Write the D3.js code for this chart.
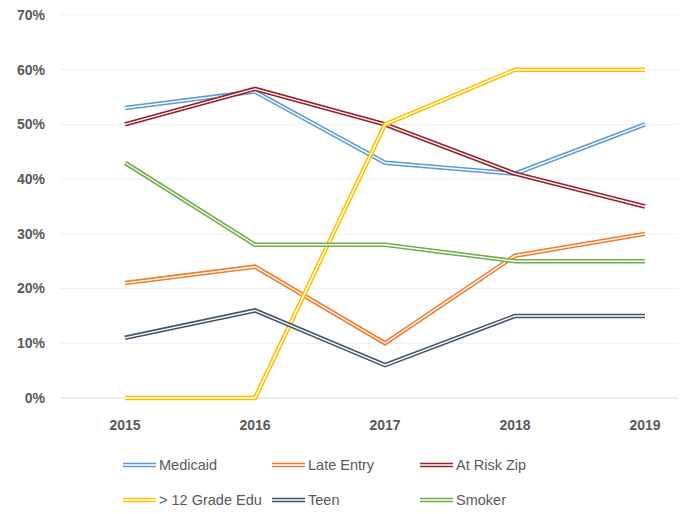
<!DOCTYPE html>
<html>
<head>
<meta charset="utf-8">
<script src="https://d3js.org/d3.v7.min.js"></script>
<style>
    body { margin: 0; background: #fff; }
    svg text { font-family: "Liberation Sans", "DejaVu Sans", sans-serif; fill: #595959; }
    .tick-y, .tick-x { font-weight: bold; font-size: 14px; }
    .legend text { font-size: 14.5px; }
</style>
</head>
<body>
<script>
    // chart data
    let years = ["2015", "2016", "2017", "2018", "2019"];
    let seriesNames = ["Medicaid", "Late Entry", "At Risk Zip", "> 12 Grade Edu", "Teen", "Smoker"];
    let colors = ["#5B9BD5", "#ED7D31", "#962126", "#FFC000", "#44546A", "#70AD47"];
    let medicaid = [0.53, 0.56, 0.43, 0.41, 0.50];
    let lateEntry = [0.21, 0.24, 0.10, 0.26, 0.30];
    let atRiskZip = [0.50, 0.565, 0.50, 0.41, 0.35];
    let gradeEdu = [0, 0, 0.50, 0.60, 0.60];
    let teen = [0.11, 0.16, 0.06, 0.15, 0.15];
    let smoker = [0.43, 0.28, 0.28, 0.25, 0.25];
    let yTicks = [0, 0.1, 0.2, 0.3, 0.4, 0.5, 0.6, 0.7];

    var values = [medicaid, lateEntry, atRiskZip, gradeEdu, teen, smoker];
    var series = seriesNames.map(function (name, i) {
        return { name: name, color: colors[i], values: values[i] };
    });

    var width = 683, height = 514;

    var svg = d3.select("body").append("svg")
        .attr("width", width)
        .attr("height", height);

    var x = d3.scaleBand().domain(years).range([60, 710]);
    var y = d3.scaleLinear().domain([0, 0.7]).range([398, 15]);
    var xc = function (d) { return x(d) + x.bandwidth() / 2; };

    // gridlines
    svg.append("g").selectAll("line")
        .data(yTicks)
        .enter().append("line")
        .attr("x1", 60).attr("x2", 678)
        .attr("y1", function (d) { return y(d); })
        .attr("y2", function (d) { return y(d); })
        .attr("stroke", function (d) { return d == 0 ? "#d9d9d9" : "#efefef"; })
        .attr("stroke-width", 1);

    // y labels
    svg.append("g").selectAll("text")
        .data(yTicks)
        .enter().append("text")
        .attr("class", "tick-y")
        .attr("x", 45)
        .attr("y", function (d) { return y(d); })
        .attr("dy", "0.35em")
        .attr("text-anchor", "end")
        .text(d3.format(".0%"));

    // x labels
    svg.append("g").selectAll("text")
        .data(years)
        .enter().append("text")
        .attr("class", "tick-x")
        .attr("x", xc)
        .attr("y", 430)
        .attr("text-anchor", "middle")
        .text(function (d) { return d; });

    var line = d3.line()
        .x(function (d, i) { return xc(years[i]); })
        .y(function (d) { return y(d); });

    // double lines: colored outer stroke, white core
    var lines = svg.append("g").selectAll("g")
        .data(series)
        .enter().append("g");

    lines.append("path")
        .attr("d", function (d) { return line(d.values); })
        .attr("fill", "none")
        .attr("stroke", function (d) { return d.color; })
        .attr("stroke-width", 4.5);

    lines.append("path")
        .attr("d", function (d) { return line(d.values); })
        .attr("fill", "none")
        .attr("stroke", "#fff")
        .attr("stroke-width", 1.4);

    // legend
    var legend = svg.append("g").attr("class", "legend")
        .selectAll("g")
        .data(series)
        .enter().append("g")
        .attr("transform", function (d, i) {
            return "translate(" + [123, 272, 420][i % 3] + "," + (i < 3 ? 465 : 500) + ")";
        });

    legend.append("line")
        .attr("x1", 0).attr("x2", 33)
        .attr("stroke", function (d) { return d.color; })
        .attr("stroke-width", 4.5);
    legend.append("line")
        .attr("x1", 0).attr("x2", 33)
        .attr("stroke", "#fff")
        .attr("stroke-width", 1.4);

    legend.append("text")
        .attr("x", 36)
        .attr("dy", "0.35em")
        .text(function (d) { return d.name; });
</script>
</body>
</html>
